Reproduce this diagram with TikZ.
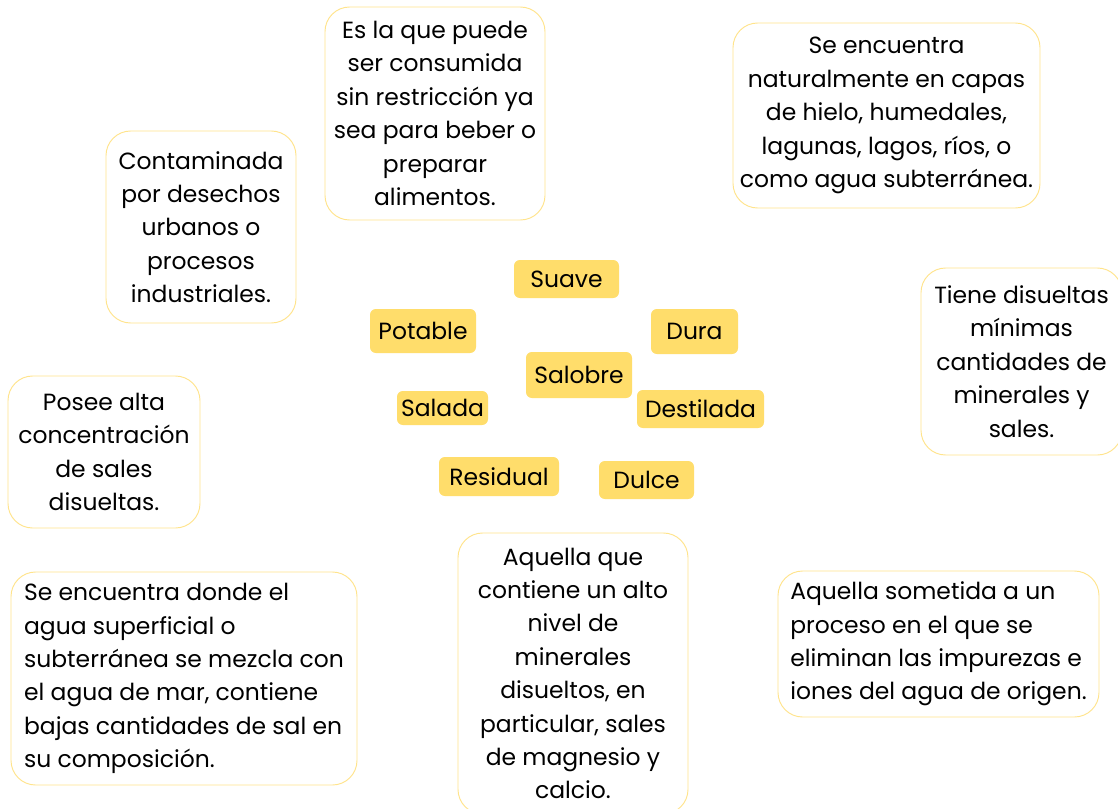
\documentclass[tikz,border=0pt]{standalone}
\usepackage{fontspec}
\setmainfont{Poppins}
\definecolor{labelyellow}{HTML}{FFDD6B}
\definecolor{boxline}{HTML}{FFE48C}
\tikzset{typenode/.style={rectangle, rounded corners=5, fill=labelyellow, inner sep=0pt, font=\fontsize{20}{24}\selectfont}}
\tikzset{descnode/.style={rectangle, rounded corners=21, draw=boxline, line width=0.8pt, inner sep=0pt, align=center, font=\fontsize{20}{28.5}\selectfont}}

\begin{document}
\begin{tikzpicture}[x=0.03cm, y=-0.03cm]
		\clip (0,0) rectangle (1118,808);
		\fill[white] (0,0) rectangle (1118,808);

		%types of water
		\node[typenode, minimum width=105*0.03cm, minimum height=38*0.03cm] (suave) at (566.5,279) {Suave};
		\node[typenode, minimum width=106*0.03cm, minimum height=44*0.03cm] (potable) at (423,331) {Potable};
		\node[typenode, minimum width=87*0.03cm, minimum height=45*0.03cm] (dura) at (694.5,331.5) {Dura};
		\node[typenode, minimum width=106*0.03cm, minimum height=46*0.03cm] (salobre) at (579,375) {Salobre};
		\node[typenode, minimum width=91*0.03cm, minimum height=34*0.03cm] (salada) at (442.5,408) {Salada};
		\node[typenode, minimum width=127*0.03cm, minimum height=38*0.03cm] (destilada) at (700.5,409) {Destilada};
		\node[typenode, minimum width=120*0.03cm, minimum height=39*0.03cm] (residual) at (499,476.5) {Residual};
		\node[typenode, minimum width=95*0.03cm, minimum height=38*0.03cm] (dulce) at (646.5,480) {Dulce};


		%descriptions
		\node[descnode, minimum width=220*0.03cm, minimum height=213*0.03cm] (potdesc) at (435,113.5)
			{Es la que puede\\ ser consumida\\ sin restricción ya\\ sea para beber o\\ preparar\\ alimentos.};
		\node[descnode, minimum width=307*0.03cm, minimum height=185*0.03cm] (dulcedesc) at (886.5,115.5)
			{Se encuentra\\ naturalmente en capas\\ de hielo, humedales,\\ lagunas, lagos, ríos, o\\ como agua subterránea.};
		\node[descnode, minimum width=190*0.03cm, minimum height=192*0.03cm] (resdesc) at (201,227)
			{Contaminada\\ por desechos\\ urbanos o\\ procesos\\ industriales.};
		\node[descnode, minimum width=201*0.03cm, minimum height=187*0.03cm] (suavedesc) at (1021.5,361.5)
			{Tiene disueltas\\ mínimas\\ cantidades de\\ minerales y\\ sales.};
		\node[descnode, minimum width=192*0.03cm, minimum height=152*0.03cm] (saldesc) at (104,452)
			{Posee alta\\ concentración\\ de sales\\ disueltas.};
		\node[descnode, align=left, minimum width=346*0.03cm, minimum height=213*0.03cm] (salobdesc) at (184,678.5)
			{Se encuentra donde el\\ agua superficial o\\ subterránea se mezcla con\\ el agua de mar, contiene\\ bajas cantidades de sal en\\ su composición.};
		\node[descnode, minimum width=230*0.03cm, minimum height=281*0.03cm] (duradesc) at (573,673.5)
			{Aquella que\\ contiene un alto\\ nivel de\\ minerales\\ disueltos, en\\ particular, sales\\ de magnesio y\\ calcio.};
		\node[descnode, align=left, minimum width=321*0.03cm, minimum height=146*0.03cm] (destdesc) at (938.5,644)
			{Aquella sometida a un\\ proceso en el que se\\ eliminan las impurezas e\\ iones del agua de origen.};

\end{tikzpicture}
\end{document}
